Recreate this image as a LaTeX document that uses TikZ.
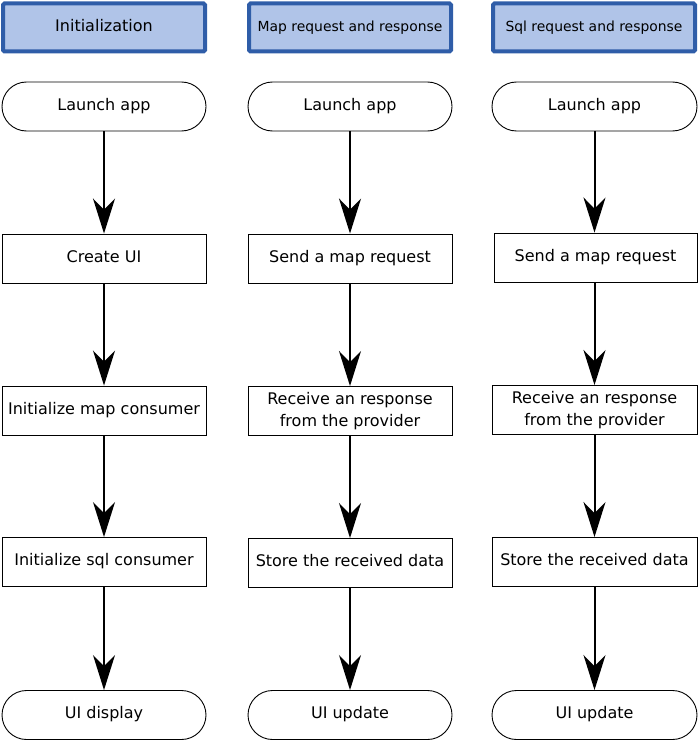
\documentclass[tikz,border=0pt]{standalone}
\usepackage{fontspec}
\setmainfont{DejaVu Sans}
\usetikzlibrary{arrows.meta}
\definecolor{hdrfill}{HTML}{B0C4E8}
\definecolor{hdrdraw}{HTML}{2F5DA8}
\begin{document}
\begin{tikzpicture}[x=1pt,y=-1pt,
  every node/.style={font=\fontsize{16}{21.5}\selectfont, inner sep=0pt, align=center},
  one/.style={text height=0.9em, text depth=0.14em},
  hdr/.style={draw=hdrdraw, fill=hdrfill, line width=4pt, rounded corners=1.5pt,
     minimum width=202pt, minimum height=48pt, one},
  hdrsmall/.style={hdr, font=\fontsize{13.9}{18}\selectfont},
  term/.style={draw=black, line width=0.9pt, rounded corners=24.5pt,
     minimum width=204pt, minimum height=49pt, one},
  procbox/.style={draw=black, line width=0.9pt, minimum width=204pt, minimum height=49pt},
  flow/.style={line width=2pt, -{Stealth[length=35pt,width=22pt,inset=11pt]}}
]
\useasboundingbox (0,0) rectangle (699,741);
% column 1
\node[hdr] (h1) at (104,27.5) {Initialization};
\node[term] (a1) at (104,106.5) {Launch app};
\node[procbox, one] (b1) at (104,258.5) {Create UI};
\node[procbox, one] (c1) at (104,410.5) {Initialize map consumer};
\node[procbox, one] (d1) at (104,562) {Initialize sql consumer};
\node[term] (e1) at (104,715) {UI display};
% column 2
\node[hdrsmall] (h2) at (350,27.5) {Map request and response};
\node[term] (a2) at (350,106.5) {Launch app};
\node[procbox, one] (b2) at (350,258.5) {Send a map request};
\node[procbox] (c2) at (350,411) {Receive an response\\from the provider};
\node[procbox, one] (d2) at (350,563) {Store the received data};
\node[term] (e2) at (350,715) {UI update};
% column 3
\node[hdrsmall] (h3) at (594,27.5) {Sql request and response};
\node[term, minimum width=205pt] (a3) at (594.5,106.5) {Launch app};
\node[procbox, one, minimum width=203pt] (b3) at (595.5,257.5) {Send a map request};
\node[procbox, minimum width=205pt] (c3) at (594.5,410) {Receive an response\\from the provider};
\node[procbox, one, minimum width=205pt] (d3) at (594.5,562) {Store the received data};
\node[term, minimum width=205pt] (e3) at (594.5,715) {UI update};
% arrows
\foreach \c in {1,2} {
  \draw[flow] (a\c) -- (b\c);
  \draw[flow] (b\c) -- (c\c);
  \draw[flow] (c\c) -- (d\c);
  \draw[flow] (d\c) -- (e\c);
}
\draw[flow] (a3.south) -- (b3.north -| a3.south);
\draw[flow] (b3.south -| a3.south) -- (c3);
\draw[flow] (c3) -- (d3);
\draw[flow] (d3) -- (e3);
\end{tikzpicture}
\end{document}
